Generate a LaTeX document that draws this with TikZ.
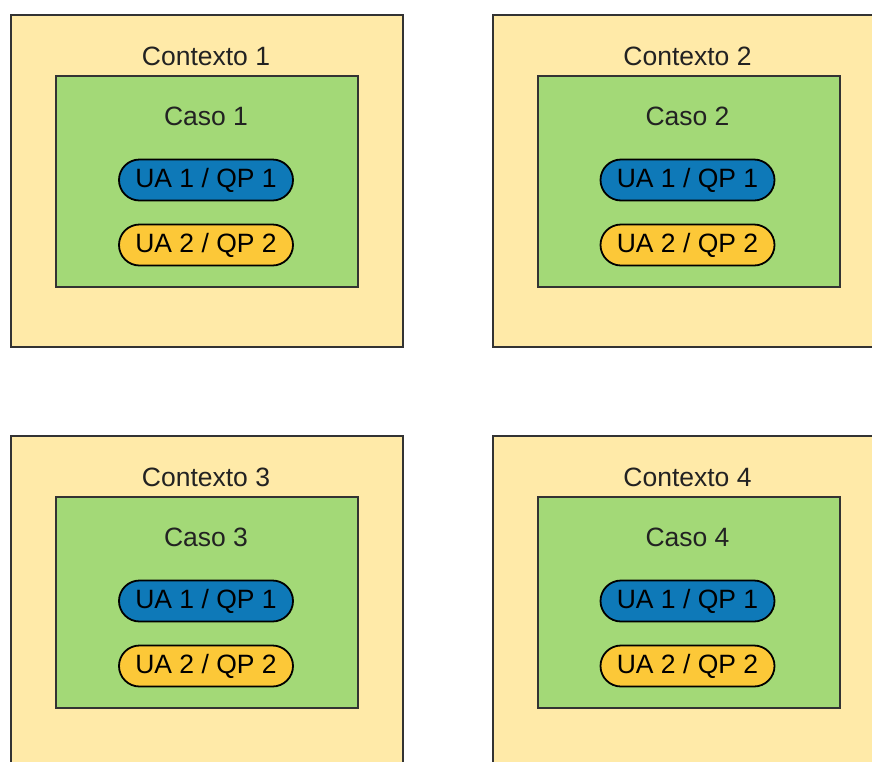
\documentclass[tikz,border=0pt]{standalone}
\usepackage{fontspec}
\setmainfont{Liberation Sans}
\definecolor{ctxfill}{HTML}{FFEAA8}
\definecolor{casefill}{HTML}{A3D977}
\definecolor{pillblue}{HTML}{0E79B8}
\definecolor{pillyellow}{HTML}{FCC838}
\definecolor{edge}{HTML}{333333}
\definecolor{txt}{HTML}{222222}
\tikzset{
  ctxbox/.style={draw=edge, line width=2.4pt, fill=ctxfill},
  casebox/.style={draw=edge, line width=2.2pt, fill=casefill},
  pill/.style={draw=black, line width=1.8pt, rounded corners=20.5pt, minimum width=174pt, minimum height=41pt, inner sep=0pt, text=black, font=\fontsize{26.5}{26.5}\selectfont},
  lbl/.style={anchor=base, text=txt, font=\fontsize{26.5}{26.5}\selectfont, inner sep=0pt}
}
\begin{document}
\begin{tikzpicture}[x=1pt,y=-1pt]
\useasboundingbox (0,0) rectangle (872,761);
\fill[white] (0,0) rectangle (872,761);
\clip (0,0) rectangle (872,761);
\foreach \i/\dx/\dy in {1/0/0, 2/481.5/0, 3/0/421, 4/481.5/421}{
  \begin{scope}[shift={(\dx,\dy)}]
    \node[ctxbox, anchor=north west, minimum width=392pt, minimum height=332pt, inner sep=0pt] (ctx\i) at (10,14) {};
    \node[lbl] (ctxl\i) at (206,65) {Contexto \i};
    \node[casebox, anchor=north west, minimum width=302pt, minimum height=211pt, inner sep=0pt] (case\i) at (55,75) {};
    \node[lbl] (casel\i) at (206,125) {Caso \i};
    \node[pill, fill=pillblue] (ua1\i) at (206,180) {UA 1 / QP 1};
    \node[pill, fill=pillyellow] (ua2\i) at (206,245) {UA 2 / QP 2};
  \end{scope}
}
\end{tikzpicture}
\end{document}
